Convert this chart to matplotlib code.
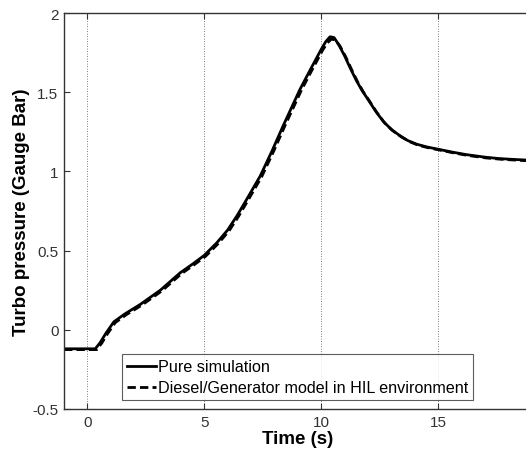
import matplotlib
matplotlib.use("Agg")
import matplotlib.pyplot as plt

plt.rcParams['font.family'] = ['Liberation Sans', 'DejaVu Sans']

t_sim = [-1.0, 0.34, 0.55, 0.8, 1.13, 1.6, 2.26, 3.12, 3.97, 4.5, 5.0, 5.54, 6.0, 6.4, 6.8, 7.39,
         7.9, 8.38, 9.1, 9.6, 10.0, 10.2, 10.38, 10.55, 10.75, 11.0, 11.25, 11.5, 11.75, 12.0,
         12.33, 12.66, 13.0, 13.37, 13.7, 14.08, 14.5, 15.0, 15.6, 16.2, 17.0, 17.6, 18.3, 19.0]
p_sim = [-0.12, -0.12, -0.08, -0.02, 0.05, 0.10, 0.16, 0.25, 0.36, 0.415, 0.47, 0.55, 0.63, 0.72,
         0.82, 0.97, 1.13, 1.29, 1.52, 1.66, 1.77, 1.82, 1.85, 1.845, 1.80, 1.73, 1.65, 1.575, 1.51,
         1.455, 1.38, 1.315, 1.265, 1.225, 1.195, 1.172, 1.155, 1.14, 1.122, 1.106, 1.09, 1.081,
         1.075, 1.07]

t_hil = [-1.0, 0.40, 0.61, 0.86, 1.19, 1.66, 2.32, 3.18, 4.03, 4.56, 5.06, 5.60, 6.06, 6.46, 6.86,
         7.45, 7.96, 8.44, 9.16, 9.66, 10.06, 10.26, 10.43, 10.60, 10.81, 11.06, 11.31, 11.56,
         11.81, 12.06, 12.39, 12.72, 13.06, 13.43, 13.76, 14.14, 14.56, 15.06, 15.66, 16.26,
         17.06, 17.66, 18.36, 19.0]
p_hil = [-0.125, -0.125, -0.085, -0.025, 0.045, 0.095, 0.155, 0.245, 0.355, 0.41, 0.465, 0.545,
         0.625, 0.715, 0.815, 0.965, 1.125, 1.285, 1.515, 1.655, 1.765, 1.81, 1.835, 1.83, 1.79,
         1.72, 1.64, 1.565, 1.50, 1.445, 1.37, 1.305, 1.257, 1.218, 1.189, 1.166, 1.15, 1.135,
         1.117, 1.101, 1.085, 1.077, 1.071, 1.066]

xticks = [0, 5, 10, 15]
yticks = [-0.5, 0, 0.5, 1, 1.5, 2]
yticklabels = ['-0.5', '0', '0.5', '1', '1.5', '2']

fig = plt.figure(figsize=(5.26, 4.56), dpi=100)
W, H = 526, 456
left, right, top, bottom = 64, 531.6, 14, 410
ax = fig.add_axes([left / W, 1 - bottom / H, (right - left) / W, (bottom - top) / H])

ax.plot(t_sim, p_sim, color='black', lw=2.0, ls='-', label='Pure simulation')
ax.plot(t_hil, p_hil, color='black', lw=2.0, ls=(0, (3, 1.5)),
        label='Diesel/Generator model in HIL environment')

ax.set_xlim(-1, 19)
ax.set_ylim(-0.5, 2)
ax.set_xticks(xticks)
ax.set_yticks(yticks)
ax.set_yticklabels(yticklabels)

for x in xticks:
    ax.axvline(x, color='#555555', lw=0.6, ls=(0, (1, 2)), zorder=0)

ax.tick_params(direction='in', length=4, width=0.8, colors='#333333', labelsize=11,
               top=True, right=True, pad=4)
for s in ax.spines.values():
    s.set_color('#333333')
    s.set_linewidth(1.0)

ax.set_xlabel('Time (s)', fontsize=13.5, fontweight='bold', labelpad=1)
ax.set_ylabel('Turbo pressure (Gauge Bar)', fontsize=13.5, fontweight='bold', labelpad=2)

leg = ax.legend(loc='lower left', bbox_to_anchor=(0.125, 0.022), fontsize=11.6,
                frameon=True, fancybox=False, handlelength=1.8, handletextpad=0.1,
                borderpad=0.3, labelspacing=0.38, borderaxespad=0)
leg.get_frame().set_edgecolor('#333333')
leg.get_frame().set_linewidth(0.8)

fig.savefig('out.png', dpi=100)
